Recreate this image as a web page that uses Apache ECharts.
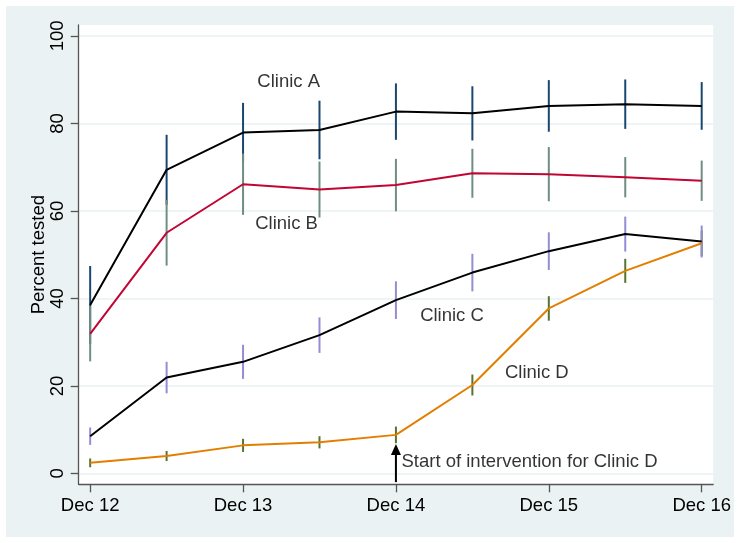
<!DOCTYPE html>
<html><head><meta charset="utf-8">
<script src="https://cdn.jsdelivr.net/npm/echarts@6/dist/echarts.min.js"></script>
<style>html,body{margin:0;padding:0;background:#fff;} #c{position:absolute;left:6px;top:6px;width:728px;height:531px;}</style>
</head><body><div id="c"></div>
<script>
const xValues = [2012, 2012.5, 2013, 2013.5, 2014, 2014.5, 2015, 2015.5, 2016];
const xTickValues = [2012, 2013, 2014, 2015, 2016];
const xTickLabels = ['Dec 12', 'Dec 13', 'Dec 14', 'Dec 15', 'Dec 16'];
const yTickValues = [0, 20, 40, 60, 80, 100];
const yTitle = 'Percent tested';

const clinicA = [38.5, 69.4, 77.9, 78.5, 82.7, 82.3, 84.0, 84.4, 84.0];
const clinicAErr = [8.9, 8.0, 6.8, 6.7, 6.45, 6.2, 5.9, 5.65, 5.45];
const clinicB = [31.9, 55.0, 66.1, 64.9, 65.9, 68.6, 68.4, 67.7, 66.9];
const clinicBErr = [6.3, 7.5, 7.0, 6.4, 6.0, 5.6, 6.2, 4.6, 4.6];
const clinicC = [8.5, 21.9, 25.5, 31.6, 39.6, 45.9, 50.8, 54.7, 53.0];
const clinicCErr = [2.0, 3.6, 3.9, 4.05, 4.3, 4.3, 4.3, 4.0, 3.65];
const clinicD = [2.4, 3.96, 6.4, 7.1, 8.8, 20.2, 37.7, 46.3, 52.6];
const clinicDErr = [1.0, 1.15, 1.5, 1.4, 1.9, 2.4, 2.8, 2.75, 2.9];

const annotationText = ['Clinic A', 'Clinic B', 'Clinic C', 'Clinic D', 'Start of intervention for Clinic D'];
const annotationX = [2013.09, 2013.076, 2014.155, 2014.71, 2014.033];
const annotationY = [89.4, 57.0, 36.0, 23.05, 2.7];

const interventionX = 2014;
const interventionArrow = [-2, 6.7];

const FONT = '"Liberation Sans", Arial, sans-serif';
const FS = 18.5;
const AXIS_COLOR = '#555';

function errSeries(vals, errs, color) {
  return {
    type: 'custom',
    z: 2,
    silent: true,
    data: xValues.map((x, i) => [x, vals[i] - errs[i], vals[i] + errs[i]]),
    encode: { x: 0, y: [1, 2] },
    renderItem: (params, api) => {
      const lo = api.coord([api.value(0), api.value(1)]);
      const hi = api.coord([api.value(0), api.value(2)]);
      return { type: 'line', shape: { x1: lo[0], y1: lo[1], x2: hi[0], y2: hi[1] },
               style: { stroke: color, lineWidth: 2 } };
    }
  };
}
function lineSeries(vals, color) {
  return {
    type: 'line', z: 3, silent: true, showSymbol: false, symbol: 'none',
    data: xValues.map((x, i) => [x, vals[i]]),
    lineStyle: { color: color, width: 2 }
  };
}

const chart = echarts.init(document.getElementById('c'));

chart.setOption({
  animation: false,
  backgroundColor: '#eaf2f3',
  grid: { left: 72.7, top: 19, right: 19, bottom: 52.7, show: true, backgroundColor: '#ffffff', borderWidth: 0 },
  xAxis: {
    type: 'value', min: 2011.925, max: 2016.075,
    axisLine: { show: true, onZero: false, lineStyle: { color: AXIS_COLOR, width: 1.3 } },
    axisTick: { show: true, length: 8, customValues: xTickValues, lineStyle: { color: AXIS_COLOR, width: 1.3 } },
    axisLabel: { customValues: xTickValues, margin: 12, color: '#000', fontSize: FS, fontFamily: FONT,
                 formatter: v => xTickLabels[xTickValues.indexOf(Math.round(v))] },
    splitLine: { show: false }
  },
  yAxis: {
    type: 'value', min: -2.5, max: 102.5,
    name: yTitle, nameLocation: 'middle', nameGap: 30, nameMoveOverlap: false,
    nameTextStyle: { color: '#000', fontSize: FS, fontFamily: FONT },
    axisLine: { show: true, lineStyle: { color: AXIS_COLOR, width: 1.3 } },
    axisTick: { show: true, length: 8, customValues: yTickValues, lineStyle: { color: AXIS_COLOR, width: 1.3 } },
    axisLabel: { customValues: yTickValues, rotate: 90, margin: 11, color: '#000', fontSize: FS, fontFamily: FONT },
    splitLine: { show: true, lineStyle: { color: '#eaf2f3', width: 1.5 } }
  },
  series: [
    errSeries(clinicA, clinicAErr, '#1a476f'),
    errSeries(clinicB, clinicBErr, '#6e8e84'),
    errSeries(clinicD, clinicDErr, '#55752f'),
    errSeries(clinicC, clinicCErr, '#938dd2'),
    lineSeries(clinicA, '#000000'),
    lineSeries(clinicB, '#c10534'),
    lineSeries(clinicC, '#000000'),
    lineSeries(clinicD, '#e37e00'),
    {
      type: 'custom', z: 5, silent: true,
      data: [[interventionX, interventionArrow[0], interventionArrow[1]]],
      encode: { x: 0, y: [1, 2] },
      renderItem: (params, api) => {
        const lo = api.coord([api.value(0), api.value(1)]);
        const hi = api.coord([api.value(0), api.value(2)]);
        const headH = 11, headW = 5;
        return { type: 'group', children: [
          { type: 'line', shape: { x1: lo[0], y1: lo[1], x2: hi[0], y2: hi[1] + headH - 1 },
            style: { stroke: '#000', lineWidth: 2 } },
          { type: 'polygon', shape: { points: [[hi[0], hi[1]], [hi[0] - headW, hi[1] + headH], [hi[0] + headW, hi[1] + headH]] },
            style: { fill: '#000' } }
        ] };
      }
    },
    {
      type: 'scatter', z: 4, silent: true,
      symbol: 'circle', symbolSize: 1,
      itemStyle: { color: 'rgba(0,0,0,0)' },
      data: annotationText.map((t, i) => ({ value: [annotationX[i], annotationY[i]], name: t })),
      label: { show: true, position: 'right', distance: 0, formatter: p => p.name,
               color: '#000', fontSize: FS, fontFamily: FONT }
    }
  ]
});
</script></body></html>
